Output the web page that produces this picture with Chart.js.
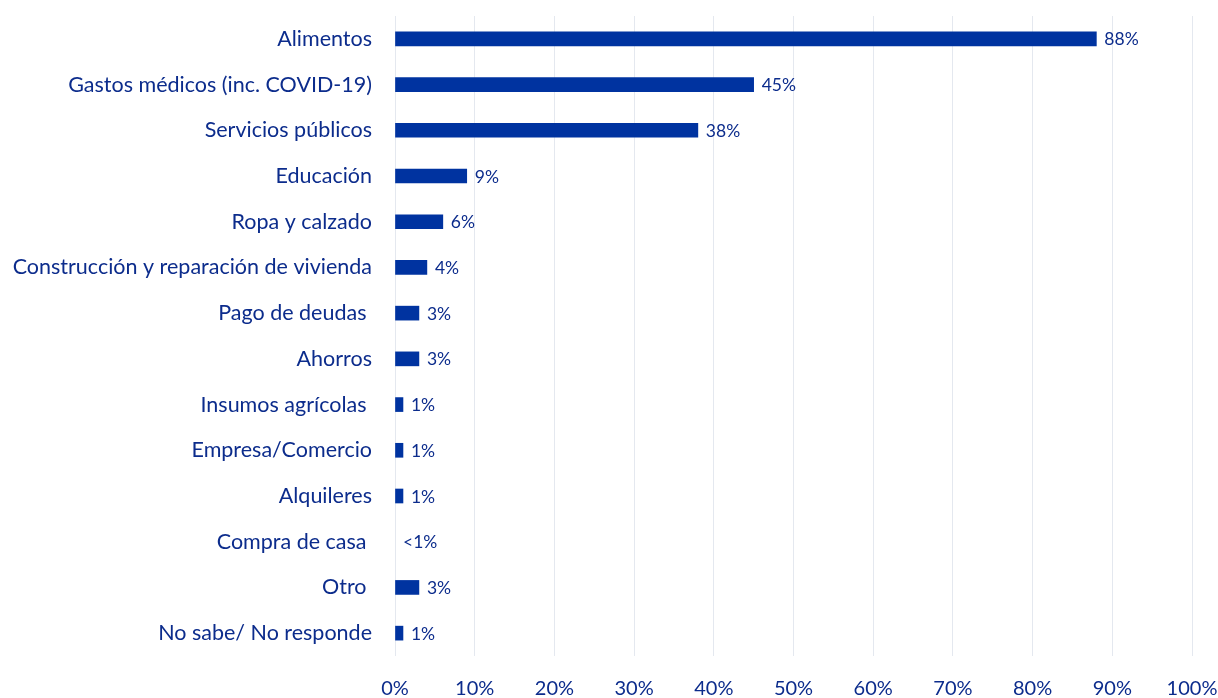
<!DOCTYPE html>
<html>
<head>
<meta charset="utf-8">
<script src="https://cdn.jsdelivr.net/npm/chart.js@4"></script>
<style>
    body { margin: 0; background: #ffffff; }
    #wrap { width: 1218px; height: 698px; }
</style>
</head>
<body>
<div id="wrap"><canvas id="chart" width="1218" height="698"></canvas></div>
<script>
const categories = [
    'Alimentos',
    'Gastos médicos (inc. COVID-19)',
    'Servicios públicos',
    'Educación',
    'Ropa y calzado',
    'Construcción y reparación de vivienda',
    'Pago de deudas ',
    'Ahorros',
    'Insumos agrícolas ',
    'Empresa/Comercio',
    'Alquileres',
    'Compra de casa ',
    'Otro ',
    'No sabe/ No responde'
];
const values = [88, 45, 38, 9, 6, 4, 3, 3, 1, 1, 1, 0, 3, 1];
const valueLabels = ['88%', '45%', '38%', '9%', '6%', '4%', '3%', '3%', '1%', '1%', '1%', '<1%', '3%', '1%'];
const xTicks = [0, 10, 20, 30, 40, 50, 60, 70, 80, 90, 100];

const navy = '#0033A0';
const textColor = '#0C2C8C';
const fontFamily = 'Lato, "Open Sans", sans-serif';

// draws the percentage next to each bar
const barLabels = {
    id: 'barLabels',
    afterDatasetsDraw(chart) {
        const ctx = chart.ctx;
        const meta = chart.getDatasetMeta(0);
        ctx.save();
        ctx.fillStyle = textColor;
        ctx.font = '17.5px ' + fontFamily;
        ctx.textAlign = 'left';
        ctx.textBaseline = 'middle';
        meta.data.forEach((bar, i) => {
            ctx.fillText(valueLabels[i], bar.x + 8, bar.y + 1);
        });
        ctx.restore();
    }
};

new Chart(document.getElementById('chart'), {
    type: 'bar',
    data: {
        labels: categories,
        datasets: [{
            data: values,
            backgroundColor: c => (c.raw === 0 ? 'rgba(0,0,0,0)' : navy),
            borderWidth: 0,
            barThickness: 14
        }]
    },
    options: {
        indexAxis: 'y',
        responsive: false,
        animation: false,
        layout: { padding: 0 },
        plugins: {
            legend: { display: false },
            tooltip: { enabled: false }
        },
        scales: {
            x: {
                min: 0,
                max: 100,
                afterBuildTicks: scale => { scale.ticks = xTicks.map(v => ({ value: v })); },
                afterFit: scale => {
                    scale.height = 42;
                    scale.paddingLeft = 0;
                    scale.paddingRight = 26;
                },
                border: { display: false },
                grid: { color: '#E4E8EF', drawTicks: false },
                ticks: {
                    color: textColor,
                    font: { family: fontFamily, size: 20 },
                    padding: 21,
                    callback: v => v + '%'
                }
            },
            y: {
                afterFit: scale => {
                    scale.width = 395;
                    scale.paddingTop = 16;
                    scale.paddingBottom = 0;
                },
                border: { display: false },
                grid: { display: false, drawTicks: false },
                ticks: {
                    color: textColor,
                    font: { family: fontFamily, size: 21.5 },
                    padding: 23,
                    autoSkip: false
                }
            }
        }
    },
    plugins: [barLabels]
});
</script>
</body>
</html>
